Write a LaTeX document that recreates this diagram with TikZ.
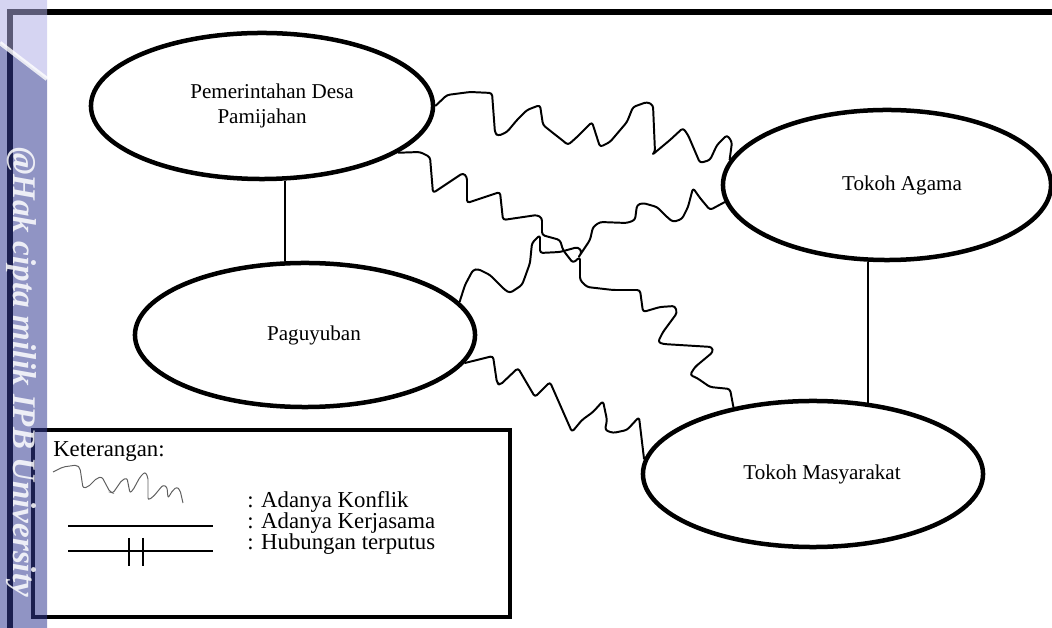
\documentclass[tikz,border=0pt]{standalone}
\usepackage{fontspec}
\setmainfont{Liberation Serif}
\definecolor{ipbBand}{RGB}{50,58,146}
\definecolor{ipbTop}{RGB}{175,173,230}
\definecolor{legendGray}{RGB}{95,95,95}
\usetikzlibrary{shapes.geometric,calc}

\begin{document}
\begin{tikzpicture}[x=0.025cm, y=-0.025cm,
    aktor/.style={draw, ellipse, line width=3.2pt, inner sep=0pt, font=\fontsize{15}{18}\selectfont},
    konflik/.style={line width=1.4pt, rounded corners=2pt, line join=round},
    kerjasama/.style={line width=1pt},
    ket/.style={anchor=west, inner sep=0pt, text height=0.65em, text depth=0.18em,
      font=\fontsize{16.2}{20}\selectfont}]
    \useasboundingbox (0,0) rectangle (1052,628);
    % Frame
    \draw[line width=3.6pt] (10,628) -- (10,12) -- (1052,12);
    % Actors
    \node[aktor, minimum width=8.55cm, minimum height=3.65cm, align=left] (pemdes) at (262,106)
      {\hspace*{0.5cm}Pemerintahan Desa\\\hspace*{1.18cm}Pamijahan};
    \node[aktor, minimum width=8.2cm, minimum height=3.75cm] (agama) at (887,185)
      {\hspace*{0.75cm}Tokoh Agama};
    \node[aktor, minimum width=8.5cm, minimum height=3.6cm] (paguyuban) at (305,335)
      {\hspace*{0.45cm}Paguyuban};
    \node[aktor, minimum width=8.5cm, minimum height=3.65cm] (masyarakat) at (813,474)
      {\hspace*{0.45cm}Tokoh Masyarakat};
    % Kerjasama
    \coordinate (k1) at ($(pemdes.south)+(23,0)$);
    \draw[kerjasama] (k1) -- (k1 |- paguyuban.north);
    \coordinate (k2) at ($(agama.south)+(-19,0)$);
    \draw[kerjasama] (k2) -- (k2 |- masyarakat.51);
    % Konflik
    \draw[konflik] (pemdes.east) -- (447,95) -- (470,92) -- (492,93) -- (495,133) -- (498,136)
      -- (507,132) -- (517,120) -- (527,110) -- (540,105) -- (543,125) -- (553,133) -- (562,140)
      -- (568,145) -- (577,137) -- (592,122) -- (600,147) -- (610,142) -- (627,122) -- (633,107)
      -- (647,102) -- (653,105) -- (655,152) -- (652,155) -- (658,150) -- (670,140) -- (683,128)
      -- (688,135) -- (700,163) -- (710,160) -- (717,145) -- (727,135) -- (732,142) -- (agama.171);
    \draw[konflik] (pemdes.-19) -- (420,152) -- (430,157) -- (433,193) -- (463,173) -- (467,177)
      -- (467,203) -- (500,192) -- (503,220) -- (537,215) -- (542,218) -- (542,235) -- (560,240)
      -- (563,250) -- (573,263) -- (580,257) -- (580,280) -- (587,287) -- (613,290) -- (640,290)
      -- (643,312) -- (660,307) -- (675,306) -- (677,313) -- (663,332) -- (658,342) -- (663,344)
      -- (712,347) -- (713,352) -- (695,367) -- (690,375) -- (697,378) -- (710,387) -- (730,389)
      -- (masyarakat.140);
    \draw[konflik] (paguyuban.12) -- (465,285) -- (473,270) -- (478,269) -- (490,275) -- (505,290)
      -- (510,293) -- (522,285) -- (525,277) -- (530,263) -- (532,243) -- (540,235) -- (540,253)
      -- (560,252) -- (578,247) -- (582,252) -- (578,258) -- (590,240) -- (593,227) -- (600,222)
      -- (627,223) -- (635,220) -- (637,205) -- (643,203) -- (657,207) -- (667,217) -- (673,222)
      -- (682,219) -- (688,207) -- (693,188) -- (700,198) -- (710,210) -- (agama.186);
    \draw[konflik] (paguyuban.-10) -- (493,356) -- (497,383) -- (500,385) -- (518,368) -- (525,380)
      -- (535,397) -- (550,382) -- (572,432) -- (582,420) -- (593,412) -- (603,401) -- (607,420)
      -- (605,430) -- (613,433) -- (627,430) -- (639,417) -- (masyarakat.175);
    % Keterangan
    \draw[line width=2.4pt] (33,430) rectangle (510,617);
    \node[ket] (keterangan) at (53,453) {Keterangan:};
    \draw[legendGray, line width=0.7pt, rounded corners=1.5pt] (53,472) -- (63,467) -- (77,465)
      -- (80,468) -- (83,488) -- (88,487) -- (97,478) -- (102,477) -- (110,492) -- (113,493)
      -- (122,480) -- (127,478) -- (130,493) -- (133,490) -- (140,477) -- (145,472) -- (148,477)
      -- (148,500) -- (153,497) -- (163,485) -- (167,487) -- (168,498) -- (173,490) -- (177,487)
      -- (180,490) -- (183,503);
    \node[ket] (ketKonflik) at (247,504) {: Adanya Konflik};
    \node[ket] (ketKerjasama) at (247,525) {: Adanya Kerjasama};
    \node[ket] (ketPutus) at (247,546) {: Hubungan terputus};
    \draw[line width=1.4pt] (68,526) -- (213,526);
    \draw[line width=1.4pt] (68,551) -- (213,551);
    \draw[line width=1.4pt] (129,538) -- (129,566) (143,538) -- (143,566);
    % Watermark band
    \fill[ipbBand, fill opacity=0.54] (0,43) -- (47,79) -- (47,628) -- (0,628) -- cycle;
    \fill[ipbTop, fill opacity=0.52] (0,0) -- (47,0) -- (47,79) -- (0,43) -- cycle;
    \draw[white, line width=3pt, opacity=0.8] (0,43) -- (47,79);
    \node[white, opacity=0.85, rotate=-90, font=\fontsize{23.5}{24}\selectfont\bfseries\itshape]
      (hakcipta) at (21,372) {@Hak cipta milik IPB University};
\end{tikzpicture}
\end{document}
